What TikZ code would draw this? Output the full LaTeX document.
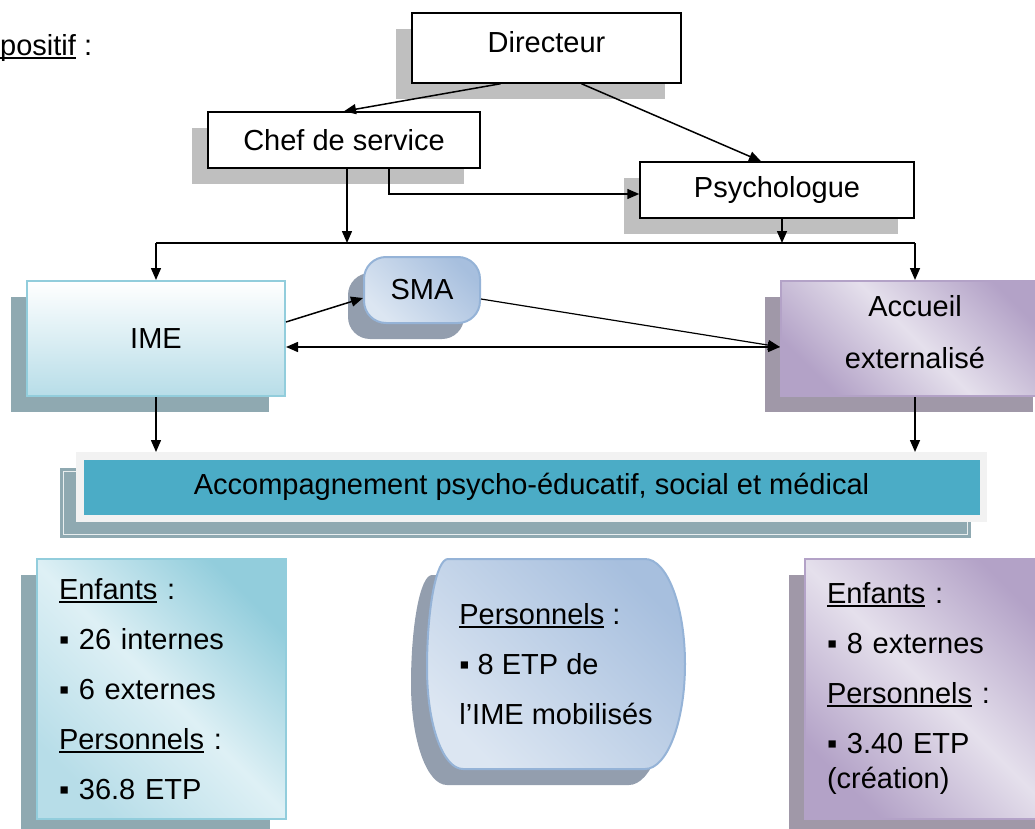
\documentclass[tikz,border=0pt]{standalone}
\usepackage{fontspec}
\setmainfont{Liberation Sans}
\usetikzlibrary{arrows.meta,shadows}

\newcommand{\police}{\fontsize{29}{35}\selectfont}
\newcommand{\liste}{\fontsize{29}{50}\selectfont}
\newsavebox{\motbox}
\newcommand{\souligne}[1]{\leavevmode\sbox{\motbox}{#1}\rlap{\rule[-3.8pt]{\wd\motbox}{2pt}}\usebox{\motbox}}

\begin{document}
\begin{tikzpicture}[x=1pt, y=-1pt, every node/.style={align=center}]
    % couleurs
    \definecolor{ombregris}{RGB}{191,191,191}   % ombre des cadres
    \definecolor{ombrebleu}{RGB}{143,169,177}   % ombre IME
    \definecolor{ombreviolet}{RGB}{160,152,168} % ombre accueil
    \definecolor{ombreacier}{RGB}{147,158,174}  % ombre SMA
    \definecolor{imebord}{RGB}{146,205,220}
    \definecolor{imefond}{RGB}{183,221,232}
    \definecolor{imeclair}{RGB}{222,240,245}
    \definecolor{sarcelle}{RGB}{75,172,198}
    \definecolor{bandeaugris}{RGB}{242,242,242}
    \definecolor{smabord}{RGB}{149,179,215}
    \definecolor{smaclair}{RGB}{220,230,242}
    \definecolor{smafonce}{RGB}{167,191,222}
    \definecolor{violbord}{RGB}{179,162,199}
    \definecolor{violclair}{RGB}{229,224,236}

    % styles des noeuds
    \tikzset{ombre/.style={drop shadow={shadow xshift=-16pt, shadow yshift=-16pt, opacity=1, fill=#1}}}
    \tikzstyle{cadre} = [rectangle, draw=black, line width=1.5pt, fill=white, font=\police, ombre=ombregris]
    \tikzstyle{imestyle} = [rectangle, draw=imebord, line width=2pt, top color=white, bottom color=imefond, font=\police, ombre=ombrebleu]
    \tikzstyle{smastyle} = [rectangle, rounded corners=22pt, draw=smabord, line width=2pt, left color=smaclair, right color=smafonce, shading angle=135, minimum width=116pt, minimum height=66pt, font=\police, ombre=ombreacier]
    \tikzstyle{violstyle} = [rectangle, draw=violbord, line width=2pt, left color=violbord, right color=violbord, middle color=violclair, shading angle=135, ombre=ombreviolet]
    \tikzstyle{bandeau} = [rectangle, fill=sarcelle, draw=bandeaugris, line width=7.5pt, minimum width=903.5pt, minimum height=62.5pt, font=\police,
        drop shadow={shadow xshift=-16pt, shadow yshift=-16pt, opacity=1, fill=ombrebleu, draw=ombrebleu, line width=3.5pt, double=white!80!ombrebleu, double distance=1pt}]
    \tikzstyle{effectif} = [rectangle, line width=2pt, minimum height=260pt, text width=205pt, inner xsep=22pt, align=left, font=\liste]
    \tikzstyle{kidbleu} = [effectif, draw=imebord, left color=imefond, right color=imebord, middle color=imeclair, shading angle=135, ombre=ombrebleu]
    \tikzstyle{kidviolet} = [effectif, draw=violbord, left color=violbord, right color=violbord, middle color=violclair, shading angle=135, ombre=ombreviolet]
    \tikzstyle{persofond} = [draw=smabord, line width=2pt, left color=smaclair, right color=smafonce, shading angle=135, ombre=ombreacier]
    \tikzstyle{persostyle} = [rectangle, minimum width=258pt, minimum height=210pt, align=left, font=\liste]
    \tikzstyle{arr} = [-{Triangle[length=12pt,width=10pt]}, line width=1.5pt]
    \tikzstyle{arr2} = [{Triangle[length=12pt,width=10pt]}-{Triangle[length=12pt,width=10pt]}, line width=1.5pt]

    \useasboundingbox (0,0) rectangle (1035,829);
    \clip (0,0) rectangle (1035,829);

    % titre
    \node[font=\police, anchor=west, inner sep=0pt] (titre) at (0,48) {\souligne{positif} :};

    % direction
    \node[cadre, minimum width=269pt, minimum height=70pt, text depth=13pt] (dir) at (546.5,48) {Directeur};
    \node[cadre, minimum width=272pt, minimum height=56pt] (chef) at (344,140) {Chef de service};
    \node[cadre, minimum width=274pt, minimum height=56pt] (psy) at (777,190) {Psychologue};

    % structures
    \node[imestyle, minimum width=258pt, minimum height=115pt] (ime) at (156,338.5) {IME};
    \node[smastyle] (sma) at (422,290) {SMA};
    \node[violstyle, minimum width=268pt, minimum height=115pt, text depth=14pt, font=\fontsize{29}{52}\selectfont] (acc) at (915,338.5) {Accueil\\externalisé};

    % bandeau
    \node[bandeau] (accomp) at (531.5,487) {Accompagnement psycho-éducatif, social et médical};

    % effectifs
    \node[kidbleu, minimum width=249pt] (effime) at (161.5,689) {\souligne{Enfants} :\\▪ 26 internes\\▪ 6 externes\\\souligne{Personnels} :\\▪ 36.8 ETP};
    \path[persofond] (448,559) -- (645,559) .. controls (667,559) and (685,606) .. (685,664)
        .. controls (685,722) and (667,769) .. (645,769) -- (463,769)
        .. controls (443,769) and (427,725) .. (427,668) .. controls (427,610) and (436,559) .. (448,559) -- cycle;
    \node[persostyle] (effsma) at (556,664) {\souligne{Personnels} :\\▪ 8 ETP de\\l’IME mobilisés};
    \node[kidviolet, minimum width=249pt] (effacc) at (929.5,688.5) {\souligne{Enfants} :\\▪ 8 externes\\\souligne{Personnels} :\\▪ 3.40 ETP\\[-15pt](création)};

    % liaisons
    \coordinate (busL) at (ime.north |- 0,243);
    \coordinate (busR) at (acc.north |- 0,243);
    \draw[arr] ([xshift=-46pt]dir.south) -- (chef.north);
    \draw[arr] ([xshift=35pt]dir.south) -- ([xshift=-16pt]psy.north);
    \draw[arr] ([xshift=45pt]chef.south) |- ([yshift=-4pt]psy.west);
    \draw[line width=1.5pt] (busL) -- (busR);
    \draw[arr] ([xshift=3pt]chef.south) -- ([xshift=3pt]chef.south |- busL);
    \draw[arr] ([xshift=5pt]psy.south) -- ([xshift=5pt]psy.south |- busL);
    \draw[arr] (busL) -- (ime.north);
    \draw[arr] (busR) -- (acc.north);
    \draw[arr] ([yshift=16.5pt]ime.east) -- ([yshift=-8pt]sma.west);
    \draw[arr, line width=1.2pt] ([yshift=-9pt]sma.east) -- ([yshift=-8.5pt]acc.west);
    \draw[arr2] ([yshift=-8.5pt]ime.east) -- ([yshift=-8.5pt]acc.west);
    \draw[arr] (ime.south) -- (ime.south |- accomp.north);
    \draw[arr] (acc.south) -- (acc.south |- accomp.north);
\end{tikzpicture}
\end{document}
